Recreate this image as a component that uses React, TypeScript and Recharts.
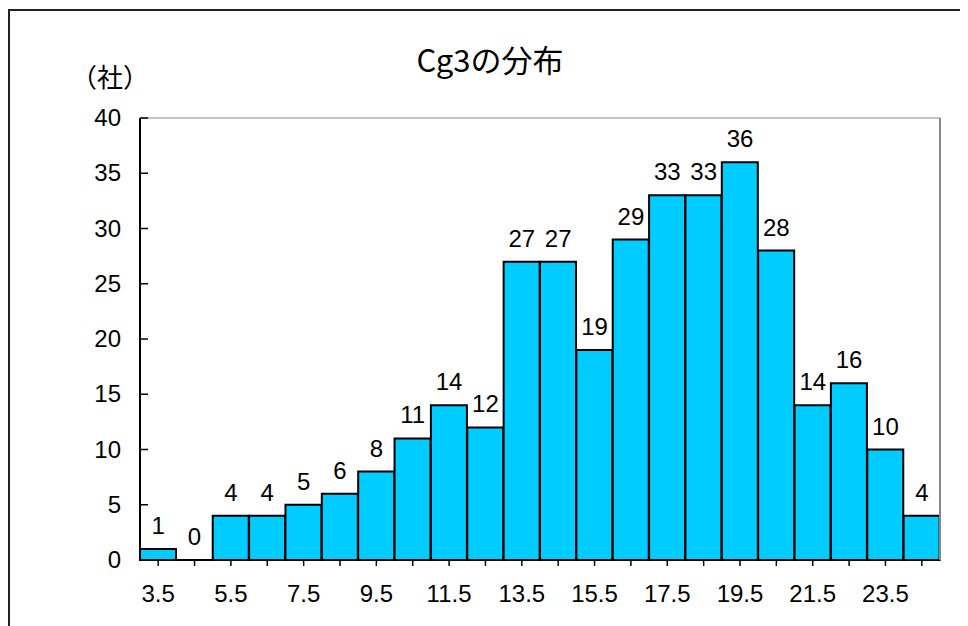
import React from "react";
import { ComposedChart, Bar, Line, XAxis, YAxis, CartesianGrid } from "recharts";

const categories = ["3.5","4.5","5.5","6.5","7.5","8.5","9.5","10.5","11.5","12.5","13.5","14.5","15.5","16.5","17.5","18.5","19.5","20.5","21.5","22.5","23.5","24.5"];
const counts = [1,0,4,4,5,6,8,11,14,12,27,27,19,29,33,33,36,28,14,16,10,4];
const yTicks = [0,5,10,15,20,25,30,35,40];
const title = "Cg3の分布";
const unitLabel = "（社）";

const data = categories.map((c, i) => ({ name: c, value: counts[i] }));

const FONT = "'Noto Sans CJK JP', 'Noto Sans', sans-serif";
const NUMFONT = "'Liberation Sans', Arial, sans-serif";
const FS = 24;

const XTick = (props: any) => {
  const { x, y, payload, index } = props;
  if (index % 2 !== 0) return null;
  return (
    <text x={x} y={y + 34} textAnchor="middle" fontSize={FS} fontFamily={NUMFONT} fill="#000">
      {payload.value}
    </text>
  );
};

const YTick = (props: any) => {
  const { x, y, payload } = props;
  return (
    <g>
      <line x1={x} y1={y} x2={x + 8} y2={y} stroke="#000" strokeWidth={1.5} />
      <text x={x - 19} y={y + 8} textAnchor="end" fontSize={FS} fontFamily={NUMFONT} fill="#000">
        {payload.value}
      </text>
    </g>
  );
};

const PointLabel = (props: any) => {
  const { x, y, value } = props;
  return (
    <text x={x} y={y - 15} textAnchor="middle" fontSize={FS} fontFamily={NUMFONT} fill="#000">
      {value}
    </text>
  );
};

export default function App() {
  return (
    <div style={{ position: "relative", width: 960, height: 618, overflow: "hidden", background: "#fff" }}>
      <div style={{ position: "absolute", left: 0, top: 1, width: 1200, height: 900, borderLeft: "2px solid #222", borderTop: "2px solid #222", boxSizing: "border-box" }} />
      <div style={{ position: "absolute", left: 282, top: 31, width: 400, textAlign: "center", fontSize: 31, fontFamily: FONT, color: "#000", lineHeight: "40px" }}>{title}</div>
      <div style={{ position: "absolute", left: 63, top: 50, fontSize: 26, fontFamily: FONT, color: "#000", lineHeight: "36px" }}>{unitLabel}</div>
      <div style={{ position: "absolute", left: 0, top: 0 }}>
        <ComposedChart width={960} height={618} data={data} barCategoryGap={0} margin={{ top: 110, right: 27, bottom: 36, left: 72 }}>
          <CartesianGrid vertical={false} stroke="#888" strokeWidth={1} />
          <XAxis dataKey="name" interval={0} tick={<XTick />} tickSize={6} tickLine={{ stroke: "#000", strokeWidth: 1.5 }} axisLine={{ stroke: "#000", strokeWidth: 2 }} height={30} />
          <YAxis yAxisId="left" domain={[0, 40]} ticks={yTicks} width={60} tickSize={0} tickMargin={0} tickLine={false} tick={<YTick />} axisLine={{ stroke: "#000", strokeWidth: 2 }} />
          <YAxis yAxisId="right" orientation="right" domain={[0, 40]} ticks={yTicks} width={1} tick={false} tickLine={false} axisLine={{ stroke: "#888", strokeWidth: 2 }} />
          <Bar yAxisId="left" dataKey="value" fill="#00CCFF" stroke="#000" strokeWidth={2} isAnimationActive={false} />
          <Line yAxisId="left" dataKey="value" stroke="none" dot={false} activeDot={false} isAnimationActive={false} label={<PointLabel />} />
        </ComposedChart>
      </div>
    </div>
  );
}
